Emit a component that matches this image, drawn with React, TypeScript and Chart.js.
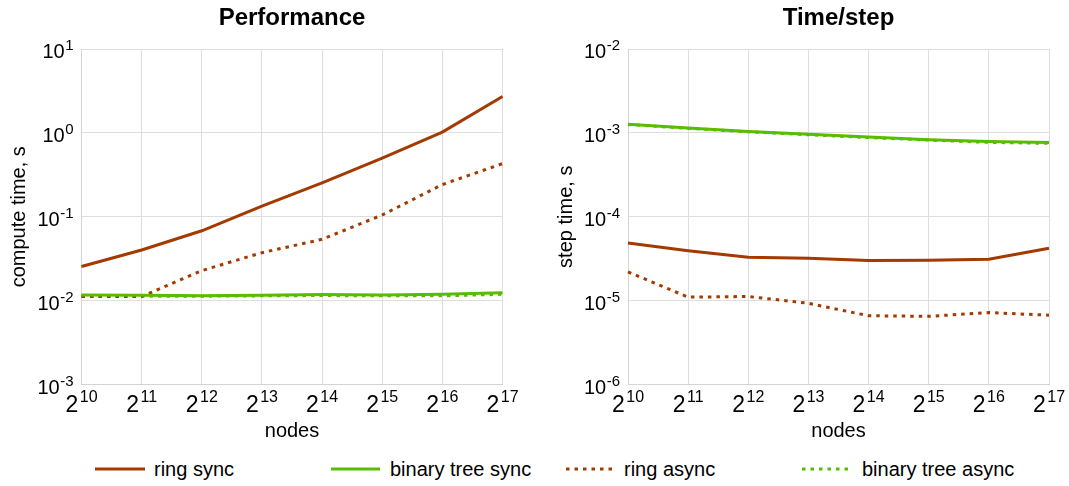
import React, { useEffect, useRef } from "react";
import { Chart, registerables } from "chart.js";

Chart.register(...registerables);

const FONT = '"Liberation Sans", Arial, Helvetica, sans-serif';

// ---- data ----
const nodeExponents = ["10", "11", "12", "13", "14", "15", "16", "17"];
const nodeLabels = nodeExponents.map((e) => "2^" + e);

const computeRingSync = [0.0255, 0.0402, 0.068, 0.134, 0.254, 0.5, 1.02, 2.72];
const computeTreeSync = [0.0117, 0.0116, 0.0114, 0.0116, 0.0118, 0.0117, 0.0119, 0.0124];
const computeRingAsync = [0.0112, 0.0112, 0.0228, 0.0373, 0.0538, 0.105, 0.242, 0.43];
const computeTreeAsync = [0.0113, 0.0113, 0.0113, 0.0114, 0.0115, 0.0114, 0.0114, 0.0119];

const stepRingSync = [4.85e-5, 3.94e-5, 3.29e-5, 3.2e-5, 3.0e-5, 3.02e-5, 3.11e-5, 4.22e-5];
const stepTreeSync = [1.27e-3, 1.14e-3, 1.04e-3, 0.96e-3, 0.89e-3, 0.83e-3, 0.79e-3, 0.77e-3];
const stepRingAsync = [2.2e-5, 1.1e-5, 1.12e-5, 9.3e-6, 6.6e-6, 6.5e-6, 7.2e-6, 6.7e-6];
const stepTreeAsync = [1.26e-3, 1.13e-3, 1.03e-3, 0.95e-3, 0.88e-3, 0.82e-3, 0.77e-3, 0.75e-3];

const computeTickExponents = [1, 0, -1, -2, -3];
const stepTickExponents = [-2, -3, -4, -5, -6];

const seriesNames = ["ring sync", "binary tree sync", "ring async", "binary tree async"];
const seriesColors = ["#a33a00", "#58bd00", "#a33a00", "#58bd00"];
const seriesDotted = [false, false, true, true];

const DOT_DASH = [3.5, 5];

type PanelProps = {
  left: number;
  width: number;
  height: number;
  yAxisWidth: number;
  rightPad: number;
  title: string;
  yTitle: string;
  yTitleBaseX: number;
  exps: number[];
  series: number[][];
};

function Panel(p: PanelProps) {
  const ref = useRef<HTMLCanvasElement | null>(null);
  useEffect(() => {
    if (!ref.current) return;
    const plotBottom = 384.5;
    const labelsPlugin = {
      id: "customLabels",
      afterDraw(chart: any) {
        const ctx = chart.ctx as CanvasRenderingContext2D;
        const { left, right, top, bottom } = chart.chartArea;
        const xs = chart.scales.x;
        const ys = chart.scales.y;
        ctx.save();
        ctx.fillStyle = "#000";
        ctx.textBaseline = "alphabetic";
        // title
        ctx.font = `bold 24px ${FONT}`;
        ctx.textAlign = "center";
        ctx.fillText(p.title, (left + right) / 2, 25);
        // y tick labels
        ctx.textAlign = "left";
        for (const e of p.exps) {
          const py = ys.getPixelForValue(Math.pow(10, e));
          const expStr = e < 0 ? "-" + Math.abs(e) : String(e);
          ctx.font = `15px ${FONT}`;
          const ew = ctx.measureText(expStr).width;
          ctx.font = `20px ${FONT}`;
          const bw = ctx.measureText("10").width;
          const endX = left - 8;
          const ex = endX - ew;
          const bx = ex - bw - 0.5;
          ctx.fillText("10", bx, py + 9);
          ctx.font = `15px ${FONT}`;
          ctx.fillText(expStr, ex, py + 1);
        }
        // x tick labels
        for (let i = 0; i < nodeExponents.length; i++) {
          const px = xs.getPixelForValue(i);
          ctx.font = `23px ${FONT}`;
          const bw = ctx.measureText("2").width;
          ctx.font = `16px ${FONT}`;
          const ew = ctx.measureText(nodeExponents[i]).width;
          const total = bw + 1.5 + ew;
          const sx = px - total / 2;
          ctx.font = `23px ${FONT}`;
          ctx.fillText("2", sx, bottom + 27);
          ctx.font = `16px ${FONT}`;
          ctx.fillText(nodeExponents[i], sx + bw + 1.5, bottom + 17);
        }
        // x title
        ctx.font = `20px ${FONT}`;
        ctx.textAlign = "center";
        ctx.fillText("nodes", (left + right) / 2, bottom + 52.5);
        // y title
        ctx.translate(p.yTitleBaseX, (top + bottom) / 2);
        ctx.rotate(-Math.PI / 2);
        ctx.fillText(p.yTitle, 0, 0);
        ctx.restore();
      },
    };
    const min = Math.pow(10, Math.min(...p.exps));
    const max = Math.pow(10, Math.max(...p.exps));
    const chart = new Chart(ref.current, {
      type: "line",
      data: {
        labels: nodeLabels,
        datasets: p.series.map((d, i) => ({
          label: seriesNames[i],
          data: d,
          borderColor: seriesColors[i],
          backgroundColor: seriesColors[i],
          borderWidth: 3,
          borderDash: seriesDotted[i] ? DOT_DASH : [],
          borderCapStyle: "butt",
          pointRadius: 0,
          tension: 0,
          fill: false,
        })),
      },
      options: {
        responsive: false,
        animation: false,
        layout: { padding: { top: 49, left: 0, right: p.rightPad, bottom: 0 } },
        plugins: { legend: { display: false }, title: { display: false }, tooltip: { enabled: false } },
        scales: {
          x: {
            type: "category",
            offset: false,
            grid: { color: "#dedede", lineWidth: 1, drawTicks: false, offset: false },
            border: { color: "#d4d4d4" },
            ticks: { display: false },
            afterFit: (s: any) => {
              s.height = p.height - plotBottom;
            },
          },
          y: {
            type: "logarithmic",
            min,
            max,
            grid: { color: "#dedede", lineWidth: 1, drawTicks: false },
            border: { color: "#d4d4d4" },
            ticks: { display: false },
            afterBuildTicks: (s: any) => {
              s.ticks = p.exps.map((e) => ({ value: Math.pow(10, e) }));
            },
            afterFit: (s: any) => {
              s.width = p.yAxisWidth;
            },
          },
        },
      } as any,
      plugins: [labelsPlugin],
    });
    return () => chart.destroy();
  }, []);
  return (
    <canvas
      ref={ref}
      width={p.width}
      height={p.height}
      style={{ position: "absolute", left: p.left, top: 0, width: p.width, height: p.height }}
    />
  );
}

const legendLineX = [
  [95, 145],
  [331, 380],
  [566, 612],
  [802, 848],
];
const legendTextX = [154, 390, 624, 862];

export default function App() {
  return (
    <div style={{ position: "absolute", left: 0, top: 0, width: 1069, height: 486, background: "#fff", fontFamily: FONT }}>
      <Panel
        left={0}
        width={540}
        height={450}
        yAxisWidth={81.5}
        rightPad={37.5}
        title="Performance"
        yTitle="compute time, s"
        yTitleBaseX={25}
        exps={computeTickExponents}
        series={[computeRingSync, computeTreeSync, computeRingAsync, computeTreeAsync]}
      />
      <Panel
        left={540}
        width={529}
        height={450}
        yAxisWidth={88}
        rightPad={20}
        title="Time/step"
        yTitle="step time, s"
        yTitleBaseX={32}
        exps={stepTickExponents}
        series={[stepRingSync, stepTreeSync, stepRingAsync, stepTreeAsync]}
      />
      {seriesNames.map((name, i) => {
        const [x1, x2] = legendLineX[i];
        return (
          <React.Fragment key={name}>
            <svg
              width={x2 - x1}
              height={10}
              style={{ position: "absolute", left: x1, top: 464 }}
            >
              <line
                x1={0}
                y1={5}
                x2={x2 - x1}
                y2={5}
                stroke={seriesColors[i]}
                strokeWidth={3}
                strokeDasharray={seriesDotted[i] ? DOT_DASH.join(" ") : undefined}
              />
            </svg>
            <span
              style={{
                position: "absolute",
                left: legendTextX[i],
                top: 457,
                fontSize: 20,
                lineHeight: "24px",
                color: "#000",
                whiteSpace: "nowrap",
              }}
            >
              {name}
            </span>
          </React.Fragment>
        );
      })}
    </div>
  );
}
